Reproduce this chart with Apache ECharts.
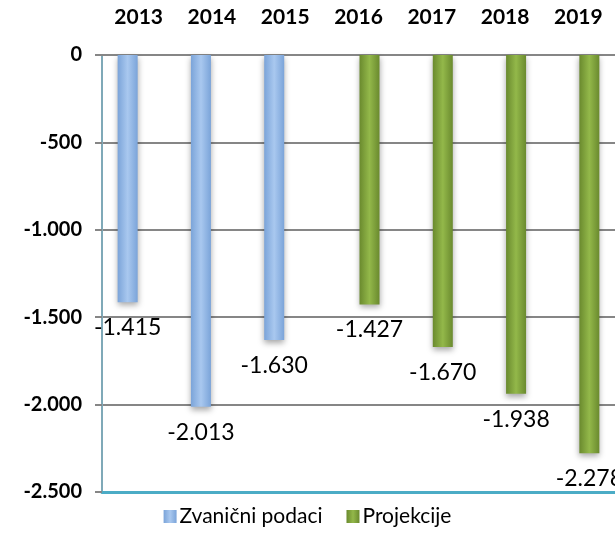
<!DOCTYPE html>
<html>
<head>
<meta charset="utf-8">
<script src="https://cdn.jsdelivr.net/npm/echarts@6/dist/echarts.min.js"></script>
<style>
html, body { margin: 0; padding: 0; background: #fff; }
#container { width: 615px; height: 533px; }
</style>
</head>
<body>
<div id="container"></div>
<script>
var years = ['2013', '2014', '2015', '2016', '2017', '2018', '2019'];
var official = [-1415, -2013, -1630, null, null, null, null];
var projected = [null, null, null, -1427, -1670, -1938, -2278];
var yTicks = { min: -2500, max: 0, interval: 500 };

function fmt(v) {
    var s = String(Math.abs(v)).replace(/\B(?=(\d{3})+(?!\d))/g, '.');
    return (v < 0 ? '-' : '') + s;
}

function barGrad(dark, light) {
    return new echarts.graphic.LinearGradient(0, 0, 1, 0, [
        { offset: 0, color: dark },
        { offset: 0.5, color: light },
        { offset: 1, color: dark }
    ]);
}

var dom = document.getElementById('container');
var myChart = echarts.init(dom);

var labelStyle = {
    show: true,
    position: 'bottom',
    distance: 14,
    fontFamily: 'Lato',
    fontSize: 23,
    color: '#000',
    formatter: function (p) { return fmt(p.value); }
};

var option = {
    animation: false,
    textStyle: { fontFamily: 'Lato' },
    grid: { left: 102, right: -6, top: 55, bottom: 41, containLabel: false },
    legend: {
        bottom: 1,
        left: 'center',
        itemWidth: 13,
        itemHeight: 13,
        itemGap: 24,
        icon: 'rect',
        textStyle: { fontFamily: 'Lato', fontSize: 21, color: '#000', padding: [0, 0, 0, -2] },
        data: ['Zvanični podaci', 'Projekcije']
    },
    xAxis: [{
        type: 'category',
        position: 'top',
        data: years,
        axisLine: { lineStyle: { color: '#868686', width: 2 } },
        axisTick: { show: false },
        axisLabel: { fontFamily: 'Lato', fontWeight: 'bold', fontSize: 21, color: '#000', margin: 27 }
    }, {
        type: 'category',
        position: 'bottom',
        data: years,
        axisLine: { lineStyle: { color: '#4bacc6', width: 3 } },
        axisTick: { show: false },
        axisLabel: { show: false }
    }],
    yAxis: {
        type: 'value',
        min: yTicks.min,
        max: yTicks.max,
        interval: yTicks.interval,
        axisLine: { show: true, lineStyle: { color: '#7fa9b8', width: 2 } },
        axisTick: { show: true, length: 7, lineStyle: { color: '#868686', width: 2 } },
        splitLine: { lineStyle: { color: '#868686', width: 2 } },
        axisLabel: {
            fontFamily: 'Lato', fontWeight: 'bold', fontSize: 20, color: '#000', margin: 20,
            formatter: fmt
        }
    },
    series: [{
        name: 'Zvanični podaci',
        type: 'bar',
        barWidth: 20,
        barGap: '10%',
        data: official,
        itemStyle: {
            color: barGrad('#7ba4d9', '#a9c8ef'),
            shadowColor: 'rgba(0,0,0,0.35)',
            shadowBlur: 6,
            shadowOffsetY: 3
        },
        label: labelStyle
    }, {
        name: 'Projekcije',
        type: 'bar',
        barWidth: 20,
        data: projected,
        itemStyle: {
            color: barGrad('#6a8a2e', '#93b84a'),
            shadowColor: 'rgba(0,0,0,0.35)',
            shadowBlur: 6,
            shadowOffsetY: 3
        },
        label: labelStyle
    }]
};

myChart.setOption(option, true);
</script>
</body>
</html>
